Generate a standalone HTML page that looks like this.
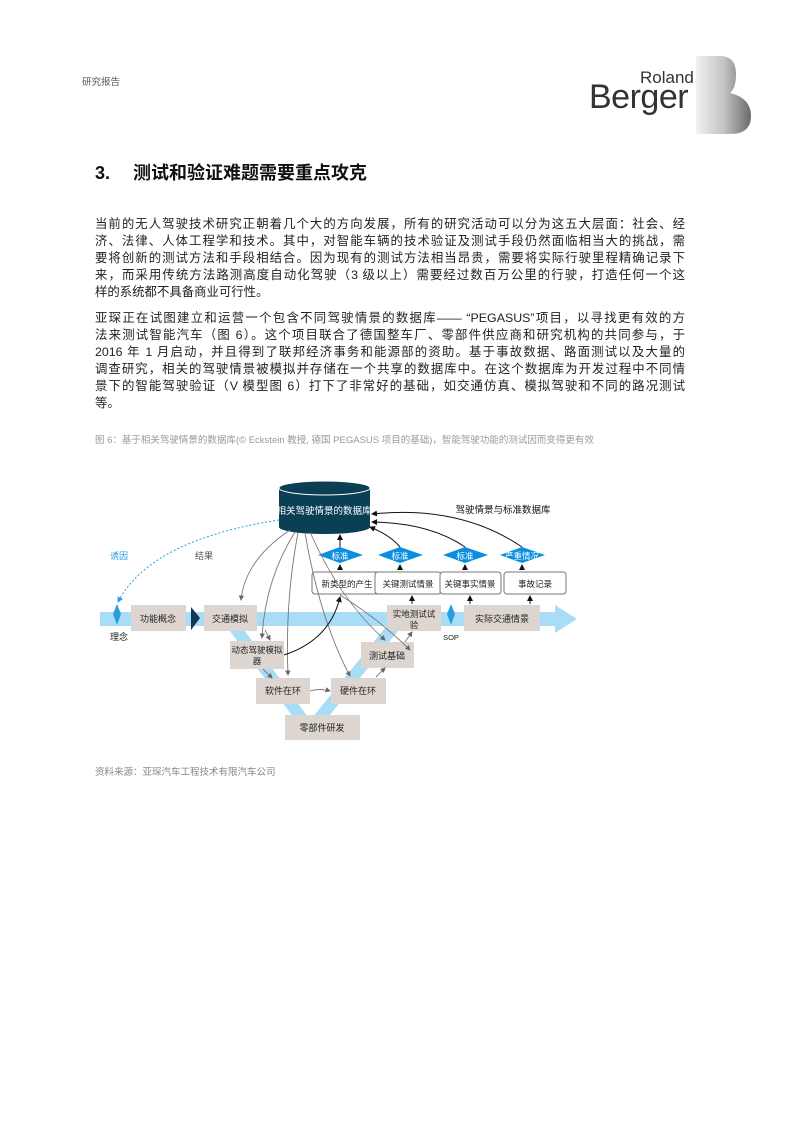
<!DOCTYPE html>
<html><head><meta charset="utf-8">
<style>
body{margin:0;background:#fff;}
.page{position:relative;width:794px;height:1123px;overflow:hidden;font-family:"Liberation Sans","Noto Sans CJK SC",sans-serif;}
.abs{position:absolute;}
.p div{height:17px;line-height:17px;font-size:12.4px;color:#222;text-align:justify;text-align-last:justify;white-space:nowrap;}
.p div.l{text-align-last:left;}
</style></head><body><div class="page">
<div class="abs" style="left:82px;top:74px;font-size:9.5px;color:#555;">研究报告</div>
<div class="abs" style="left:640px;top:68px;font-size:17px;color:#333;">Roland</div>
<div class="abs" style="left:589px;top:78px;font-size:34px;color:#333;letter-spacing:-0.5px;">Berger</div>
<svg class="abs" style="left:694px;top:56px" width="58" height="78" viewBox="0 0 58 78">
<defs><linearGradient id="g" x1="0" x2="1"><stop offset="0" stop-color="#f2f2f2"/><stop offset="0.5" stop-color="#c4c4c4"/><stop offset="1" stop-color="#6a6a6a"/></linearGradient></defs>
<path d="M2 0 H26 Q42 0 42 18 Q42 32 36 37 Q57 42 57 60 Q57 78 36 78 H2 Z" fill="url(#g)"/>
</svg>
<div class="abs" style="left:95px;top:161px;font-size:18px;font-weight:bold;color:#111;line-height:24px;">3.<span style="position:absolute;left:38px;white-space:nowrap;">测试和验证难题需要重点攻克</span></div>
<div class="abs p" style="left:95px;top:216px;width:590px;">
<div>当前的无人驾驶技术研究正朝着几个大的方向发展，所有的研究活动可以分为这五大层面：社会、经</div>
<div>济、法律、人体工程学和技术。其中，对智能车辆的技术验证及测试手段仍然面临相当大的挑战，需</div>
<div>要将创新的测试方法和手段相结合。因为现有的测试方法相当昂贵，需要将实际行驶里程精确记录下</div>
<div>来，而采用传统方法路测高度自动化驾驶（3 级以上）需要经过数百万公里的行驶，打造任何一个这</div>
<div class="l">样的系统都不具备商业可行性。</div>
</div>
<div class="abs p" style="left:95px;top:310px;width:590px;">
<div>亚琛正在试图建立和运营一个包含不同驾驶情景的数据库—— “PEGASUS”项目，以寻找更有效的方</div>
<div>法来测试智能汽车（图 6）。这个项目联合了德国整车厂、零部件供应商和研究机构的共同参与，于</div>
<div>2016 年 1 月启动，并且得到了联邦经济事务和能源部的资助。基于事故数据、路面测试以及大量的</div>
<div>调查研究，相关的驾驶情景被模拟并存储在一个共享的数据库中。在这个数据库为开发过程中不同情</div>
<div>景下的智能驾驶验证（V 模型图 6）打下了非常好的基础，如交通仿真、模拟驾驶和不同的路况测试</div>
<div class="l">等。</div>
</div>
<div class="abs" style="left:95px;top:432px;font-size:9.5px;color:#999;">图 6：基于相关驾驶情景的数据库(© Eckstein 教授, 德国 PEGASUS 项目的基础)，智能驾驶功能的测试因而变得更有效</div>
<svg class="abs" style="left:0;top:460px" width="794" height="300" viewBox="0 460 794 300" font-family="Liberation Sans,Noto Sans CJK SC,sans-serif">
<defs>
<marker id="a" markerWidth="6" markerHeight="6" refX="5" refY="3" orient="auto"><path d="M0 0L6 3L0 6Z" fill="#666"/></marker>
<marker id="b" markerWidth="6" markerHeight="6" refX="5" refY="3" orient="auto"><path d="M0 0L6 3L0 6Z" fill="#111"/></marker>
<marker id="c" markerWidth="6" markerHeight="6" refX="5" refY="3" orient="auto"><path d="M0 0L6 3L0 6Z" fill="#2a9de0"/></marker>
</defs>
<rect x="100" y="612" width="455" height="14" fill="#a9dcf7"/>
<path d="M555 605 L577 619 L555 633 Z" fill="#a9dcf7"/>
<path d="M233 625 L310 730 L395 625" fill="none" stroke="#a9dcf7" stroke-width="12"/>
<g fill="#ddd5cf">
<rect x="131" y="605" width="55" height="26"/><rect x="204" y="605" width="53" height="26"/>
<rect x="230" y="641" width="54" height="28"/><rect x="256" y="678" width="54" height="26"/>
<rect x="331" y="678" width="55" height="26"/><rect x="285" y="715" width="75" height="25"/>
<rect x="361" y="642" width="53" height="26"/><rect x="387" y="605" width="54" height="26"/>
<rect x="464" y="605" width="76" height="26"/>
</g>
<path d="M191 607 L200 618 L191 630 Z" fill="#0b3a52"/>
<path d="M117 604 L121 614 L117 625 L113 614 Z" fill="#2a9de0"/>
<path d="M451 604 L455 614 L451 625 L447 614 Z" fill="#2a9de0"/>
<g font-size="9" fill="#222" text-anchor="middle">
<text x="158" y="622">功能概念</text><text x="230" y="622">交通模拟</text>
<text x="257" y="653" font-size="8.5">动态驾驶模拟</text><text x="257" y="664" font-size="8.5">器</text>
<text x="283" y="694">软件在环</text><text x="358" y="694">硬件在环</text>
<text x="322" y="731">零部件研发</text><text x="387" y="659">测试基础</text>
<text x="414" y="617" font-size="8.5">实地测试试</text><text x="414" y="628" font-size="8.5">验</text>
<text x="502" y="622">实际交通情景</text>
<text x="119" y="640">理念</text><text x="451" y="640" font-size="7.5">SOP</text>
</g>
<g fill="#fff" stroke="#777">
<rect x="312" y="572" width="70" height="22" rx="3"/><rect x="375" y="572" width="66" height="22" rx="3"/>
<rect x="440" y="572" width="61" height="22" rx="3"/><rect x="504" y="572" width="62" height="22" rx="3"/>
</g>
<g font-size="8.5" fill="#222" text-anchor="middle">
<text x="347" y="587">新类型的产生</text><text x="408" y="587">关键测试情景</text>
<text x="470" y="587">关键事实情景</text><text x="535" y="587">事故记录</text>
</g>
<g fill="#0a8fe0">
<path d="M318 555 L340 547 L363 555 L340 563Z"/><path d="M378 555 L400 547 L423 555 L400 563Z"/>
<path d="M443 555 L465 547 L488 555 L465 563Z"/><path d="M500 555 L522 547 L545 555 L522 563Z"/>
</g>
<g font-size="8.5" fill="#fff" text-anchor="middle">
<text x="340" y="559">标准</text><text x="400" y="559">标准</text><text x="465" y="559">标准</text><text x="522" y="559">严重情况</text>
</g>
<path d="M279 488 V527 A45.5 7 0 0 0 370 527 V488 Z" fill="#0b3f55"/>
<ellipse cx="324.5" cy="488" rx="45.5" ry="7" fill="#0b3f55" stroke="#fff" stroke-width="1"/>
<text x="324" y="514" font-size="9.5" fill="#fff" text-anchor="middle">相关驾驶情景的数据库</text>
<text x="503" y="513" font-size="9.5" fill="#111" text-anchor="middle">驾驶情景与标准数据库</text>
<text x="110" y="559" font-size="9" fill="#2a9de0">诱因</text>
<text x="195" y="559" font-size="9" fill="#555">结果</text>
<path d="M279 520 Q150 540 118 602" fill="none" stroke="#2a9de0" stroke-dasharray="2,2" marker-end="url(#c)"/>
<g fill="none" stroke="#777" stroke-width="0.9" marker-end="url(#a)">
<path d="M290 530 Q245 560 241 600"/>
<path d="M295 532 Q265 580 262 638"/>
<path d="M298 533 Q285 600 288 675"/>
<path d="M305 533 Q320 620 350 676"/>
<path d="M310 532 Q340 600 385 640"/>
<path d="M340 595 Q380 620 410 650" />
<path d="M263 669 L272 678"/><path d="M310 691 Q320 688 330 691"/>
<path d="M376 677 L385 668"/><path d="M405 642 L412 632"/>
<path d="M265 630 L270 640"/>
</g>
<g fill="none" stroke="#111" stroke-width="1" marker-end="url(#b)">
<path d="M284 655 Q330 640 340 597"/>
<path d="M340 570 V565"/><path d="M340 547 V535"/>
<path d="M400 570 V565"/><path d="M400 547 Q390 535 370 527"/>
<path d="M465 570 V565"/><path d="M465 547 Q430 523 372 522"/>
<path d="M522 570 V565"/><path d="M522 547 Q460 505 372 514"/>
<path d="M412 604 V596"/><path d="M470 604 V596"/><path d="M530 604 V596"/>
</g>
</svg>
<div class="abs" style="left:95px;top:764px;font-size:9.5px;color:#888;">资料来源：亚琛汽车工程技术有限汽车公司</div>
</div></body></html>
